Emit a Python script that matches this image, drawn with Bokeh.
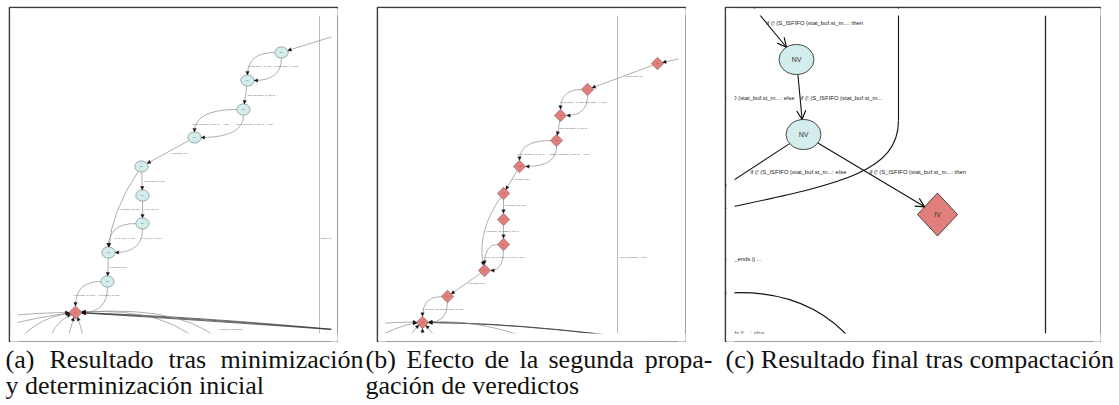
import math
from bokeh.plotting import figure
from bokeh.layouts import column, row
from bokeh.models import Range1d, Arrow, NormalHead, OpenHead, ColumnDataSource
from bokeh.core.properties import value
from bokeh.embed import file_html
from bokeh.resources import INLINE

# ------------------------------------------------------------------ data
# Panel (a): NV (ellipse) nodes, IV (diamond) node, off-view anchors
a_nv_x = [281, 247, 243, 194, 141, 142, 142, 108, 107]
a_nv_y = [52, 80, 109, 137, 166, 195, 223, 252, 281]
a_iv_x = [75]
a_iv_y = [312]
a_ext_x = [345, 0, 0, 12, 45, 66, 84, 345, 207, 228]
a_ext_y = [32, 316, 326, 350, 350, 350, 350, 330, 350, 350]
a_edges = [("x0", "n0", "s"),
           ("n0", "n1", "h"), ("n0", "n1", "v"),
           ("n1", "n2", "s"),
           ("n2", "n3", "h"), ("n2", "n3", "v"),
           ("n3", "n4", "s"),
           ("n4", "n5", "s"),
           ("n5", "n6", "s"),
           ("n4", "n7", (111, 211)),
           ("n6", "n7", "h"), ("n6", "n7", "v"),
           ("n7", "n8", "s"),
           ("n8", "d0", "h"), ("n8", "d0", "v"),
           ("x1", "d0", (40, 312)), ("x2", "d0", (40, 316)),
           ("x3", "d0", (30, 318)), ("x4", "d0", (52, 322)),
           ("x5", "d0", (68, 332)), ("x6", "d0", (83, 332)),
           ("x7", "d0", (200, 318)), ("x7", "d0", (205, 320)), ("x7", "d0", (195, 316)),
           ("x8", "d0", (170, 306)), ("x9", "d0", (195, 304))]
a_lbl_x = [247, 274, 247, 192, 236, 170, 143, 118, 143, 114, 140, 109, 73, 98, 218, 325, 320]
a_lbl_y = [66, 66, 95, 124, 124, 153, 181, 209, 209, 238, 238, 267, 295, 295, 329, 329, 238]
a_lbl_text = ["if (seat_flags != 0): else", "if (seat_flags != 0): then",
              "fseek (seekable_or_not, fd, ...",
              "fseek (seekable_or_not, fd, ... : else", "fseek (seekable_or_not, fd, ... : then",
              "if (seekable_fd)?", "if (seekable_fd): else", "if (seekable_fd): then",
              "if (!(io_end_p))", "if (!(io_end_p)): else", "if (!(io_end_p)): then",
              "if (seekable_fd)?", "if (seekable_fd): then", "if (seekable_fd): else",
              "if (waiting_verifications)", "if (pl_check)", "disable: true"]
a_vline_x = [319]

# Panel (b): every node already turned into an IV verdict
b_iv_x = [657, 587, 560, 556, 519, 503, 503, 503, 484, 447, 422]
b_iv_y = [63, 89, 115, 140, 166, 193, 219, 244, 270, 296, 322]
b_ext_x = [690, 370, 370, 405, 422, 438, 720, 545]
b_ext_y = [56, 324, 340, 345, 345, 345, 350, 345]
b_edges = [("x0", "d0", "s"),
           ("d0", "d1", "s"),
           ("d1", "d2", "h"), ("d1", "d2", "v"),
           ("d2", "d3", "s"),
           ("d3", "d4", "h"), ("d3", "d4", "v"),
           ("d4", "d5", "s"),
           ("d5", "d6", "s"),
           ("d6", "d7", "s"),
           ("d5", "d8", (476, 231)),
           ("d7", "d8", "h"), ("d7", "d8", "v"),
           ("d8", "d9", "s"),
           ("d9", "d10", "h"), ("d9", "d10", "v"),
           ("x1", "d10", (400, 321)), ("x2", "d10", (400, 324)),
           ("x3", "d10", (412, 330)), ("x4", "d10", (422, 332)), ("x5", "d10", (433, 332)),
           ("x6", "d10", (540, 322)), ("x6", "d10", (545, 323)),
           ("x7", "d10", (485, 318))]
b_lbl_x = [625, 559, 582, 559, 517, 552, 512, 504, 485, 504, 483, 503, 467, 422, 442, 618]
b_lbl_y = [76, 102, 102, 128, 154, 154, 179, 205, 231, 231, 257, 257, 283, 309, 309, 257]
b_lbl_text = ["Finish Paper: 0.0", "if (seat_flags != 0): else", "if (seat_flags != 0): then",
              "fseek (seekable_or_not, fd...",
              "fseek (seekable_or_not, fd, ... : else", "fseek (seekable_or_not, fd, ... : then",
              "if (seekable_fd)?", "if (seekable_fd): else", "if (seekable_fd): then",
              "if (!(io_end_p))", "if (!(io_end_p)): else", "if (!(io_end_p)): then",
              "if (seekable_fd)?", "if (seekable_fd): then", "if (seekable_fd): else",
              "if (text_compilation(...): then"]
b_vline_x = [617]

# Panel (c): compacted graph, zoomed in
c_nv_x = [796, 803]
c_nv_y = [59, 134]
c_iv_x = [937]
c_iv_y = [214]
c_ext_x = [745, 690]
c_ext_y = [-3, 208]
c_edges = [("x0", "n0", "s"), ("n0", "n1", "s"), ("n1", "d0", "s"), ("n1", "x1", "s")]
c_long_x = [898, 898, 898, 830, 715]   # vertical run, then cubic bend
c_long_y = [-5, 120, 175, 185, 210]
c_arc_x = [720, 810, 858]              # quadratic arc at the bottom
c_arc_y = [293, 285, 348]
c_vline_x = [1045]
c_lbl_l_x = [766, 800, 750, 869]
c_lbl_l_y = [22, 97, 171, 171]
c_lbl_l_text = ["if (! (S_ISFIFO (stat_buf.st_m...: then",
                "if (! (S_ISFIFO (stat_buf.st_m...",
                "if (! (S_ISFIFO (stat_buf.st_m...: else",
                "if (! (S_ISFIFO (stat_buf.st_m...: then"]
c_lbl_r_x = [794, 761, 764]
c_lbl_r_y = [97, 258, 332]
c_lbl_r_text = ["if (! (S_ISFIFO (stat_buf.st_m...: else",
                "if (! (comm_ends || ...",
                "if (! (comm_ends || ...: else"]

# visible drawing area inside each framed panel: (left, right, top, bottom)
a_view = (17, 331, 15, 333)
b_view = (385, 678, 15, 333)
c_view = (734, 1093, 15, 333)

# captions (justified first lines are set word by word)
cap_left = [("(a)", 5, 359), ("Resultado", 49, 359), ("tras", 168, 359),
            ("y determinización inicial", 5, 385),
            ("(b)", 365, 359), ("Efecto", 406, 359), ("de", 484, 359), ("la", 519, 359),
            ("segunda", 548, 359),
            ("gación de veredictos", 365, 385),
            ("(c) Resultado final tras compactación", 725, 359)]
cap_right = [("minimización", 363, 359), ("propa-", 712, 359)]

NV_FILL = "#d3ecec"
IV_FILL = "#e07f7b"
SANS = value("Liberation Sans")


# ------------------------------------------------------------------ helpers
def make_nodes(nv_x, nv_y, iv_x, iv_y, ext_x, ext_y, nv_r, iv_r):
    nodes = {}
    for i, (x, y) in enumerate(zip(nv_x, nv_y)):
        nodes[f"n{i}"] = (x, y, "ellipse", nv_r[0], nv_r[1])
    for i, (x, y) in enumerate(zip(iv_x, iv_y)):
        nodes[f"d{i}"] = (x, y, "diamond", iv_r[0], iv_r[1])
    for i, (x, y) in enumerate(zip(ext_x, ext_y)):
        nodes[f"x{i}"] = (x, y, "point", 0, 0)
    return nodes


def clip_pt(node, tx, ty):
    x, y, kind, rx, ry = node
    dx, dy = tx - x, ty - y
    L = math.hypot(dx, dy) or 1.0
    ux, uy = dx / L, dy / L
    if kind == "ellipse":
        t = 1.0 / math.sqrt((ux / rx) ** 2 + (uy / ry) ** 2)
    elif kind == "diamond":
        t = 1.0 / (abs(ux) / rx + abs(uy) / ry)
    else:
        t = 0.0
    return x + ux * t, y + uy * t


def edge_sources(nodes, edges, dark=(), light="#8c8c8c", heavy="#333333"):
    cols = dict(x0=[], y0=[], x1=[], y1=[], cx=[], cy=[], color=[])
    arr = dict(xs=[], ys=[], xe=[], ye=[])
    for s, t, route in edges:
        sx, sy = nodes[s][:2]
        tx, ty = nodes[t][:2]
        if route == "s":
            cx, cy = (sx + tx) / 2, (sy + ty) / 2
        elif route == "h":
            cx, cy = tx, sy
        elif route == "v":
            cx, cy = sx, ty
        else:
            cx, cy = route
        x0, y0 = clip_pt(nodes[s], cx, cy)
        x1, y1 = clip_pt(nodes[t], cx, cy)
        if route == "s":
            cx, cy = (x0 + x1) / 2, (y0 + y1) / 2
        for k, v in zip(("x0", "y0", "x1", "y1", "cx", "cy"), (x0, y0, x1, y1, cx, cy)):
            cols[k].append(v)
        cols["color"].append(heavy if s in dark else light)
        if nodes[t][2] != "point":
            dx, dy = x1 - cx, y1 - cy
            L = math.hypot(dx, dy) or 1.0
            arr["xs"].append(x1 - dx / L)
            arr["ys"].append(y1 - dy / L)
            arr["xe"].append(x1)
            arr["ye"].append(y1)
    return ColumnDataSource(cols), ColumnDataSource(arr)


def diamond_patches(xs, ys, rx, ry):
    px = [[x, x + rx, x, x - rx] for x in xs]
    py = [[y - ry, y, y + ry, y] for y in ys]
    return px, py


def make_panel(x0, x1, y0, y1, left, top):
    p = figure(width=(x1 - x0) + left, height=(y1 - y0) + top,
               x_range=Range1d(x0, x1), y_range=Range1d(y1, y0),
               output_backend="svg", toolbar_location=None, title=None,
               x_axis_location=None, y_axis_location=None,
               min_border_left=left, min_border_right=0,
               min_border_top=top, min_border_bottom=0)
    p.grid.grid_line_color = None
    p.outline_line_color = "#3c3c3c"
    p.outline_line_width = 1.6
    p.background_fill_color = "white"
    return p


def mask_outside(p, x0, x1, y0, y1, view):
    """white strips between the panel frame and the drawing area (clips the graph)."""
    vl, vr, vt, vb = view
    p.quad(left=[x0 + 1, x0 + 1, x0 + 1, vr], right=[vl, x1 - 1, x1 - 1, x1 - 1],
           top=[y0 + 1, y0 + 1, vb, y0 + 1], bottom=[y1 - 1, vt, y1 - 1, y1 - 1],
           fill_color="white", line_color=None, level="annotation")


def draw_small_graph(p, nodes, edges, dark, nv_x, nv_y, nv_r, iv_x, iv_y, iv_r,
                     vline_x, lbl_x, lbl_y, lbl_text, view):
    p.segment(x0=vline_x, y0=[view[2]] * len(vline_x), x1=vline_x, y1=[view[3]] * len(vline_x),
              line_color="#b4b4b4", line_width=0.9)
    esrc, asrc = edge_sources(nodes, edges, dark)
    p.quadratic(x0="x0", y0="y0", x1="x1", y1="y1", cx="cx", cy="cy", source=esrc,
                line_color="color", line_width=0.7)
    p.add_layout(Arrow(end=NormalHead(size=3.5, fill_color="#111", line_color="#111", line_width=0.3),
                       x_start="xs", y_start="ys", x_end="xe", y_end="ye", source=asrc,
                       line_color="#8c8c8c", line_width=0.7))
    if nv_x:
        p.ellipse(x=nv_x, y=nv_y, width=2 * nv_r[0], height=2 * nv_r[1],
                  fill_color=NV_FILL, line_color="#6a7a7a", line_width=0.6)
        p.text(x=nv_x, y=nv_y, text=["NV"] * len(nv_x), text_font=SANS,
               text_font_size="2.4px", text_color="#556", text_align="center",
               text_baseline="middle")
    dx, dy = diamond_patches(iv_x, iv_y, iv_r[0], iv_r[1])
    p.patches(xs=dx, ys=dy, fill_color=IV_FILL, line_color="#8a5a5a", line_width=0.6)
    p.text(x=iv_x, y=iv_y, text=["IV"] * len(iv_x), text_font=SANS,
           text_font_size="2.4px", text_color="#433", text_align="center",
           text_baseline="middle")
    p.text(x=lbl_x, y=lbl_y, text=lbl_text, text_font=SANS, text_font_size="2.3px",
           text_color="#555", text_align="left", text_baseline="middle")


# ------------------------------------------------------------------ panel (a)
pa = make_panel(9, 338, 7, 342, 9, 7)
a_nodes = make_nodes(a_nv_x, a_nv_y, a_iv_x, a_iv_y, a_ext_x, a_ext_y, (6.7, 5.6), (6.6, 6.6))
draw_small_graph(pa, a_nodes, a_edges, {"x7"}, a_nv_x, a_nv_y, (6.7, 5.6), a_iv_x, a_iv_y,
                 (6.6, 6.6), a_vline_x, a_lbl_x, a_lbl_y, a_lbl_text, a_view)
mask_outside(pa, 9, 338, 7, 342, a_view)

# ------------------------------------------------------------------ panel (b)
pb = make_panel(377, 686, 7, 342, 39, 7)
b_nodes = make_nodes([], [], b_iv_x, b_iv_y, b_ext_x, b_ext_y, (6, 5), (6.2, 6.2))
draw_small_graph(pb, b_nodes, b_edges, {"x6"}, [], [], (6, 5), b_iv_x, b_iv_y, (6.2, 6.2),
                 b_vline_x, b_lbl_x, b_lbl_y, b_lbl_text, b_view)
mask_outside(pb, 377, 686, 7, 342, b_view)

# ------------------------------------------------------------------ panel (c)
pc = make_panel(725, 1101, 7, 342, 39, 7)
c_nodes = make_nodes(c_nv_x, c_nv_y, c_iv_x, c_iv_y, c_ext_x, c_ext_y, (17.5, 15), (20, 21.5))
pc.segment(x0=c_vline_x, y0=[c_view[2]], x1=c_vline_x, y1=[c_view[3]],
           line_color="#222", line_width=1.3)
pc.line(x=c_long_x[:2], y=c_long_y[:2], line_color="#111", line_width=1.1)
pc.bezier(x0=[c_long_x[1]], y0=[c_long_y[1]], cx0=[c_long_x[2]], cy0=[c_long_y[2]],
          cx1=[c_long_x[3]], cy1=[c_long_y[3]], x1=[c_long_x[4]], y1=[c_long_y[4]],
          line_color="#111", line_width=1.1)
pc.quadratic(x0=[c_arc_x[0]], y0=[c_arc_y[0]], cx=[c_arc_x[1]], cy=[c_arc_y[1]],
             x1=[c_arc_x[2]], y1=[c_arc_y[2]], line_color="#111", line_width=1.1)
c_esrc, c_asrc = edge_sources(c_nodes, c_edges, light="#111111")
pc.quadratic(x0="x0", y0="y0", x1="x1", y1="y1", cx="cx", cy="cy", source=c_esrc,
             line_color="color", line_width=1.1)
pc.add_layout(Arrow(end=OpenHead(size=9, line_color="#111", line_width=1.2),
                    x_start="xs", y_start="ys", x_end="xe", y_end="ye", source=c_asrc,
                    line_color="#111", line_width=1.1))
pc.ellipse(x=c_nv_x, y=c_nv_y, width=35, height=30, fill_color=NV_FILL,
           line_color="#333", line_width=0.9)
pc.text(x=c_nv_x, y=c_nv_y, text=["NV"] * len(c_nv_x), text_font=SANS,
        text_font_size="7px", text_color="#333", text_align="center", text_baseline="middle")
cdx, cdy = diamond_patches(c_iv_x, c_iv_y, 20, 21.5)
pc.patches(xs=cdx, ys=cdy, fill_color=IV_FILL, line_color="#333", line_width=0.9)
pc.text(x=c_iv_x, y=c_iv_y, text=["IV"] * len(c_iv_x), text_font=SANS,
        text_font_size="7px", text_color="#333", text_align="center", text_baseline="middle")
pc.text(x=c_lbl_l_x, y=c_lbl_l_y, text=c_lbl_l_text, text_font=SANS, text_font_size="5.9px",
        text_color="#222", text_align="left", text_baseline="middle")
pc.text(x=c_lbl_r_x, y=c_lbl_r_y, text=c_lbl_r_text, text_font=SANS, text_font_size="5.9px",
        text_color="#222", text_align="right", text_baseline="middle")
mask_outside(pc, 725, 1101, 7, 342, c_view)

# ------------------------------------------------------------------ captions
pcap = figure(width=1119, height=62, x_range=Range1d(0, 1119), y_range=Range1d(404, 342),
              output_backend="svg", toolbar_location=None, title=None,
              x_axis_location=None, y_axis_location=None,
              min_border_left=0, min_border_right=0, min_border_top=0, min_border_bottom=0)
pcap.grid.grid_line_color = None
pcap.outline_line_color = None
CAP_FONT = value("Liberation Serif")
pcap.text(x=[c[1] for c in cap_left], y=[c[2] for c in cap_left], text=[c[0] for c in cap_left],
          text_font=CAP_FONT, text_font_size="26px", text_color="#111",
          text_align="left", text_baseline="alphabetic")
pcap.text(x=[c[1] for c in cap_right], y=[c[2] for c in cap_right], text=[c[0] for c in cap_right],
          text_font=CAP_FONT, text_font_size="26px", text_color="#111",
          text_align="right", text_baseline="alphabetic")

layout = column(row(pa, pb, pc), pcap)
open("out.html", "w").write(file_html(layout, INLINE))
